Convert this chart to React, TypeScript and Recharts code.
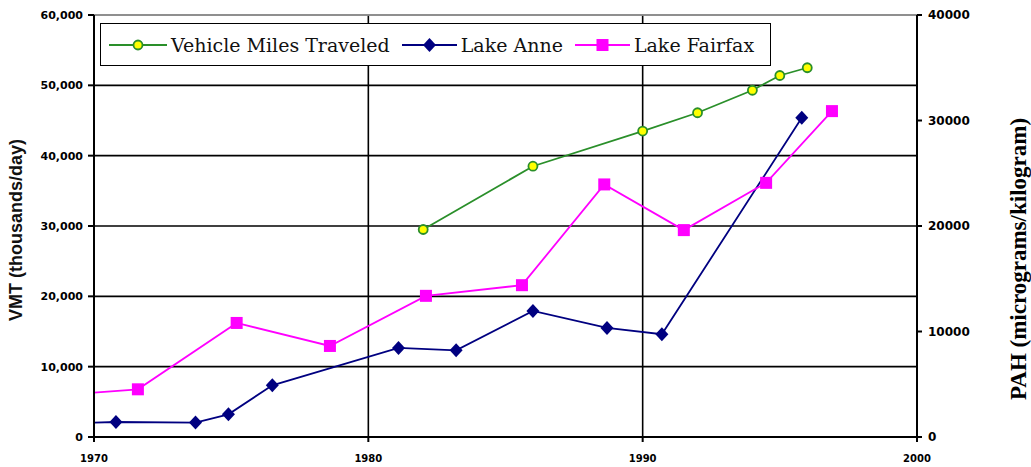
import { LineChart, Line, XAxis, YAxis, CartesianGrid, Legend, ReferenceLine } from 'recharts';

// Vehicle Miles Traveled (thousands/day), left axis
const vmtYears = [1982, 1986, 1990, 1992, 1994, 1995, 1996];
const vmtValues = [29500, 38500, 43500, 46100, 49300, 51400, 52500];

// Lake Anne PAH (micrograms/kilogram), right axis
const anneYears = [1970, 1970.8, 1973.7, 1974.9, 1976.5, 1981.1, 1983.2, 1986, 1988.7, 1990.7, 1995.8];
const anneValues = [1370, 1420, 1370, 2150, 4900, 8440, 8220, 11950, 10340, 9740, 30260];

// Lake Fairfax PAH (micrograms/kilogram), right axis
const fairfaxYears = [1970, 1971.6, 1975.2, 1978.6, 1982.1, 1985.6, 1988.6, 1991.5, 1994.5, 1996.9];
const fairfaxValues = [4210, 4520, 10810, 8630, 13380, 14390, 23940, 19610, 24090, 30890];

const xTicks = [1970, 1980, 1990, 2000];
const vmtTicks = [0, 10000, 20000, 30000, 40000, 50000, 60000];
const pahTicks = [0, 10000, 20000, 30000, 40000];

const GREEN = '#2a8f2a';
const NAVY = '#000080';
const MAGENTA = '#ff00ff';

const vmtData = vmtYears.map((year, i) => ({ year, value: vmtValues[i] }));
const anneData = anneYears.map((year, i) => ({ year, value: anneValues[i], start: i === 0 }));
const fairfaxData = fairfaxYears.map((year, i) => ({ year, value: fairfaxValues[i], start: i === 0 }));

const Circle = ({ cx, cy }: any) => (
  <circle cx={cx} cy={cy} r={4.5} fill="#ffff00" stroke={GREEN} strokeWidth={1.8} />
);
const Diamond = ({ cx, cy }: any) => (
  <path d={`M${cx},${cy - 7}L${cx + 6.5},${cy}L${cx},${cy + 7}L${cx - 6.5},${cy}Z`} fill={NAVY} />
);
const Square = ({ cx, cy }: any) => <rect x={cx - 6} y={cy - 6} width={12} height={12} fill={MAGENTA} />;

// first point of the lake series is only a line start, no marker
const dotFor = (Shape: any) => (props: any) =>
  props.payload.start ? <g key={props.key} /> : <Shape key={props.key} cx={props.cx} cy={props.cy} />;

const legendItems = [
  { name: 'Vehicle Miles Traveled', color: GREEN, Shape: Circle, w: 58 },
  { name: 'Lake Anne', color: NAVY, Shape: Diamond, w: 55 },
  { name: 'Lake Fairfax', color: MAGENTA, Shape: Square, w: 55 },
];

const renderLegend = () => (
  <div
    style={{
      border: '1.6px solid #000',
      background: '#fff',
      height: 43,
      boxSizing: 'border-box',
      display: 'flex',
      alignItems: 'center',
      paddingLeft: 8,
      fontFamily: 'DejaVu Serif',
      fontSize: 19,
      color: '#111',
    }}
  >
    {legendItems.map((it) => (
      <div key={it.name} style={{ display: 'flex', alignItems: 'center', marginRight: 12 }}>
        <svg width={it.w} height={20}>
          <line x1={0} y1={10} x2={it.w} y2={10} stroke={it.color} strokeWidth={2} />
          <it.Shape cx={it.w / 2} cy={10} />
        </svg>
        <span style={{ marginLeft: 4 }}>{it.name}</span>
      </div>
    ))}
  </div>
);

const tickFont = { fontFamily: 'DejaVu Sans', fontWeight: 'bold', fill: '#000' };

export default function App() {
  return (
    <div style={{ position: 'absolute', left: 0, top: 0, background: '#fff' }}>
      <LineChart width={1031} height={467} margin={{ top: 15, right: 0, bottom: 0, left: 0 }}>
        <CartesianGrid stroke="#000" strokeWidth={1.6} yAxisId="vmt" />
        <XAxis
          dataKey="year"
          type="number"
          domain={[1970, 2000]}
          ticks={xTicks}
          allowDuplicatedCategory={false}
          height={30}
          tickSize={5}
          tickMargin={13}
          stroke="#000"
          strokeWidth={2}
          tick={{ ...tickFont, fontSize: 10 }}
        />
        <YAxis
          yAxisId="vmt"
          domain={[0, 60000]}
          ticks={vmtTicks}
          width={94}
          tickSize={6}
          tickMargin={5}
          stroke="#000"
          strokeWidth={2}
          tick={{ ...tickFont, fontSize: 11 }}
          tickFormatter={(v: number) => v.toLocaleString('en-US')}
          label={({ viewBox }: any) => (
            <text
              x={16}
              y={viewBox.y + viewBox.height / 2 + 4}
              transform={`rotate(-90, 16, ${viewBox.y + viewBox.height / 2 + 4})`}
              textAnchor="middle"
              dominantBaseline="central"
              fontFamily="Liberation Sans"
              fontWeight="bold"
              fontSize={18}
              fill="#111"
            >
              VMT (thousands/day)
            </text>
          )}
        />
        <YAxis
          yAxisId="pah"
          orientation="right"
          domain={[0, 40000]}
          ticks={pahTicks}
          width={114}
          tickSize={5}
          tickMargin={6}
          stroke="#000"
          strokeWidth={2}
          tick={{ ...tickFont, fontSize: 12 }}
          label={() => (
            <text
              x={1018}
              y={259}
              transform="rotate(-90, 1018, 259)"
              textAnchor="middle"
              dominantBaseline="central"
              fontFamily="Liberation Serif"
              fontWeight="bold"
              fontSize={23}
              fill="#000"
            >
              PAH (micrograms/kilogram)
            </text>
          )}
        />
        <ReferenceLine yAxisId="vmt" y={60000} stroke="#aaa" strokeWidth={1.5} />
        <Legend
          layout="horizontal"
          verticalAlign="middle"
          align="center"
          content={renderLegend}
          wrapperStyle={{ left: 100, top: 23, width: 671, height: 43 }}
        />
        <Line
          yAxisId="pah"
          data={anneData}
          dataKey="value"
          name="Lake Anne"
          stroke={NAVY}
          strokeWidth={1.8}
          dot={dotFor(Diamond)}
          isAnimationActive={false}
        />
        <Line
          yAxisId="pah"
          data={fairfaxData}
          dataKey="value"
          name="Lake Fairfax"
          stroke={MAGENTA}
          strokeWidth={1.8}
          dot={dotFor(Square)}
          isAnimationActive={false}
        />
        <Line
          yAxisId="vmt"
          data={vmtData}
          dataKey="value"
          name="Vehicle Miles Traveled"
          stroke={GREEN}
          strokeWidth={1.8}
          dot={dotFor(Circle)}
          isAnimationActive={false}
        />
      </LineChart>
    </div>
  );
}
